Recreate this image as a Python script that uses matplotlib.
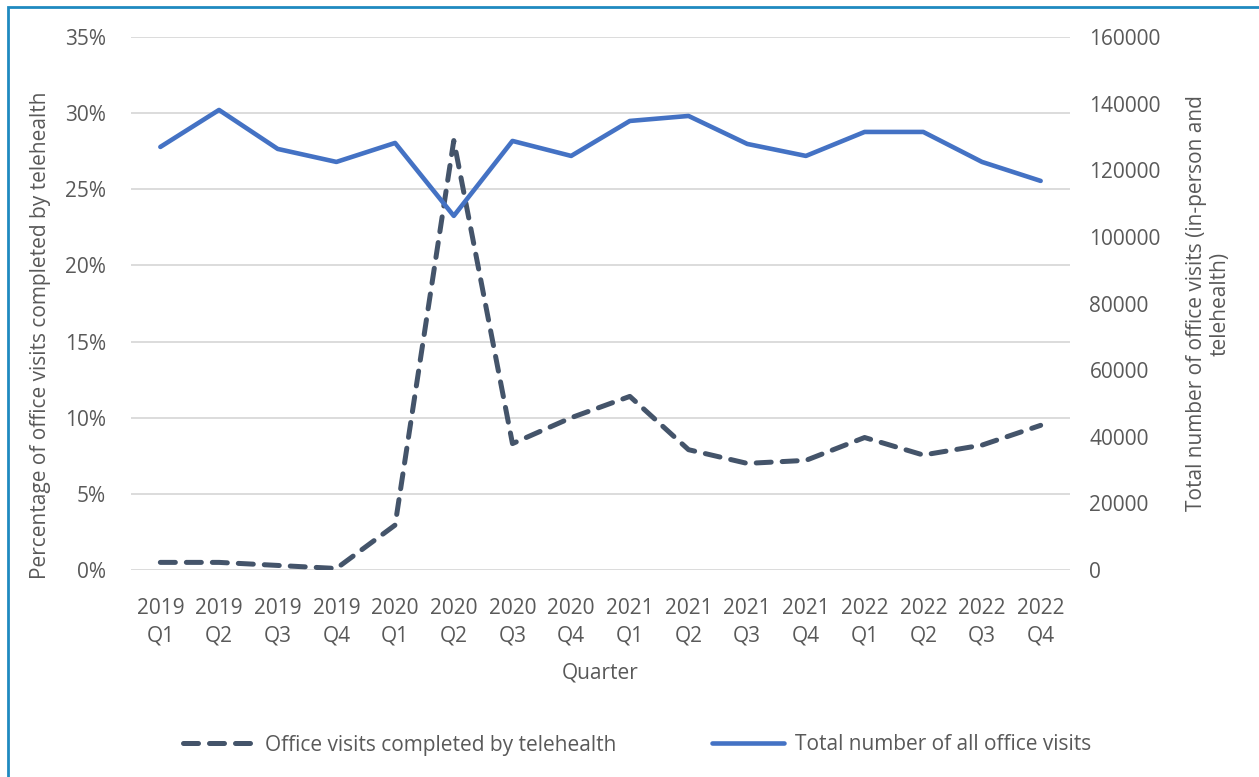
import numpy as np
import matplotlib.pyplot as plt
from matplotlib.patches import Rectangle
from matplotlib.ticker import FuncFormatter, MultipleLocator

quarters = ['2019\nQ1', '2019\nQ2', '2019\nQ3', '2019\nQ4',
            '2020\nQ1', '2020\nQ2', '2020\nQ3', '2020\nQ4',
            '2021\nQ1', '2021\nQ2', '2021\nQ3', '2021\nQ4',
            '2022\nQ1', '2022\nQ2', '2022\nQ3', '2022\nQ4']
telehealth_pct = [0.5, 0.5, 0.3, 0.1, 2.95, 28.2, 8.3, 10.0,
                  11.4, 7.9, 7.0, 7.2, 8.7, 7.55, 8.2, 9.5]
total_visits = [127000, 138100, 126400, 122500, 128200, 106300, 128800, 124300,
                134800, 136300, 127900, 124300, 131500, 131500, 122500, 116800]

grey = '#595959'
plt.rcParams['font.family'] = ['Open Sans', 'DejaVu Sans']
fs = 15

fig = plt.figure(figsize=(12.59, 7.77), dpi=100)
ax = fig.add_axes([131/1259, 1-570/777, 939/1259, 533/777])
ax2 = ax.twinx()

x = np.arange(len(quarters))
ax.plot(x, telehealth_pct, color='#44546A', lw=3.6, ls=(0, (3.0, 2.2)),
        dash_capstyle='round', solid_capstyle='round', zorder=3,
        label='Office visits completed by telehealth')
ax2.plot(x, total_visits, color='#4472C4', lw=3.3, solid_capstyle='round',
         solid_joinstyle='round', label='Total number of all office visits')

ax.set_xlim(-0.5, len(quarters) - 0.5)
ax.set_ylim(0, 35)
ax2.set_ylim(0, 160000)
ax.yaxis.set_major_locator(MultipleLocator(5))
ax2.yaxis.set_major_locator(MultipleLocator(20000))
ax.yaxis.set_major_formatter(FuncFormatter(lambda v, p: f'{v:.0f}%'))
ax.set_xticks(x)
ax.set_xticklabels(quarters, linespacing=1.4)
ax.grid(axis='y', color='#D9D9D9', lw=1.3)
ax.set_axisbelow(True)

for a in (ax, ax2):
    for s in a.spines.values():
        s.set_visible(False)
    a.tick_params(length=0, colors=grey, labelsize=fs)
ax.tick_params(axis='y', pad=18)
ax.tick_params(axis='x', pad=20)
ax2.tick_params(axis='y', pad=14)

ax.set_ylabel('Percentage of office visits completed by telehealth', color=grey,
              fontsize=fs)
ax.yaxis.set_label_coords(-0.085, 0.44)
ax2.set_ylabel('Total number of office visits (in-person and\ntelehealth)',
               color=grey, fontsize=fs, labelpad=18, linespacing=1.15)
ax.set_xlabel('Quarter', color=grey, fontsize=fs, labelpad=12)

h1, l1 = ax.get_legend_handles_labels()
h2, l2 = ax2.get_legend_handles_labels()
fig.legend(h1 + h2, l1 + l2, loc='center', bbox_to_anchor=(637/1259, 1-745/777),
           ncol=2, frameon=False, fontsize=15, labelcolor=grey,
           handlelength=3.45, columnspacing=4.6, handletextpad=0.5)

# blue frame around the chart
fig.patches.append(Rectangle((8/1259, -0.05), 1.1, 1-7/777+0.05,
                             transform=fig.transFigure, fill=False,
                             edgecolor='#1F8AC0', lw=2))

fig.savefig('out.png', dpi=100)
